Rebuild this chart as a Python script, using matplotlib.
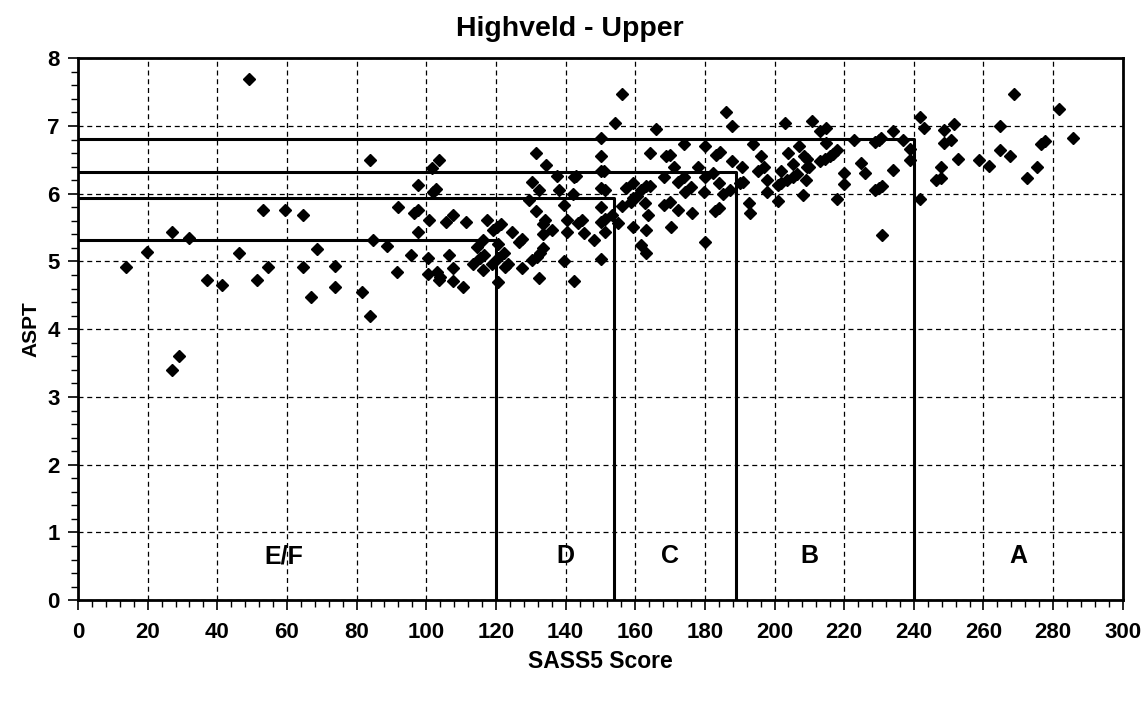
import matplotlib.pyplot as plt
from matplotlib.ticker import MultipleLocator

plt.rcParams['font.family'] = ['Liberation Sans', 'DejaVu Sans']
plt.rcParams['font.weight'] = 'bold'

# SASS5 score vs ASPT for sites
sass5 = [49.2, 53.0, 59.4, 64.5, 27.0, 32.0, 19.9, 13.8, 46.3, 54.5, 64.5, 68.5,
         37.0, 41.3, 51.3, 66.8, 29.0, 27.1,
         73.7, 73.7, 83.8, 84.8, 88.6, 81.6, 83.8, 91.9, 91.7, 95.7, 97.6, 96.5,
         97.6, 97.6, 100.7, 100.6, 100.6, 101.7, 103.6, 102.0, 102.8, 103.0, 103.9,
         103.6, 105.6, 107.6, 106.6, 107.6, 107.6, 110.6, 111.4, 113.5, 114.5,
         116.4, 115.4, 116.6, 116.4, 117.5, 118.8, 119.2, 120.2, 121.6, 120.5,
         120.5, 120.5, 122.4, 122.6, 123.5, 124.5, 126.7, 127.4, 127.4,
         131.5, 134.4, 137.4, 130.3, 132.4, 129.6, 131.5, 134.2, 133.4, 136.0,
         133.4, 133.4, 132.6, 131.7, 130.3, 132.4, 138.2, 139.5, 140.3, 140.3,
         139.5,
         142.4, 142.4, 143.0, 142.2, 143.6, 144.6, 145.3, 148.3, 150.2, 150.2,
         150.2, 150.2, 151.0, 150.2, 151.3, 150.2, 150.2, 151.3, 151.3, 154.2,
         156.3, 153.2, 155.1, 156.3, 157.3, 158.7, 159.3, 159.3, 159.3, 160.6,
         161.8, 163.1, 164.2, 162.8, 163.7, 163.1, 161.8, 163.1, 166.1, 164.2,
         168.8, 170.0, 171.1, 168.2, 172.2, 174.1, 174.3, 176.0, 168.2, 170.0,
         172.2, 170.3, 176.2, 174.1, 178.1, 180.0, 180.0, 179.7, 182.2, 183.2,
         184.3, 184.1, 185.1, 182.9, 184.1, 180.0, 186.0, 187.9, 187.9, 187.2,
         190.8, 190.1, 191.0, 192.7, 193.1, 193.9, 196.0, 197.0, 195.3, 197.9,
         197.9, 201.1, 203.1, 201.9, 201.1, 202.0, 203.5, 204.0, 205.2, 206.9,
         208.1, 205.4, 206.5, 209.0, 209.2, 208.5,
         210.9, 213.0, 214.8, 214.8, 209.4, 210.0, 213.0, 214.5, 215.9, 216.9,
         218.0, 218.0, 219.9, 219.9, 222.8, 224.8, 226.0, 228.8, 230.1, 230.7,
         228.8, 230.1, 231.0, 231.0, 233.9, 233.9, 236.9, 238.9, 238.9, 241.9,
         242.9, 241.9, 248.6, 251.5, 248.6, 250.6, 252.7, 247.7, 246.5, 247.7,
         258.7, 261.6, 264.7, 264.7, 267.6, 268.7, 272.6, 275.4, 276.4, 277.6,
         281.6, 285.6]
aspt = [7.69, 5.76, 5.76, 5.69, 5.43, 5.34, 5.14, 4.92, 5.12, 4.92, 4.92, 5.18,
        4.73, 4.65, 4.72, 4.47, 3.60, 3.40,
        4.93, 4.62, 6.50, 5.31, 5.23, 4.55, 4.20, 5.80, 4.84, 5.10, 6.13, 5.71,
        5.76, 5.44, 5.61, 5.05, 4.81, 6.38, 6.50, 6.03, 6.07, 4.84, 4.77,
        4.73, 5.58, 5.69, 5.10, 4.90, 4.71, 4.62, 5.59, 4.96, 5.22,
        5.32, 5.05, 5.10, 4.87, 5.61, 4.97, 5.47, 5.51, 5.55, 5.26,
        5.05, 4.70, 5.13, 4.92, 4.97, 5.44, 5.29, 5.33, 4.91,
        6.60, 6.43, 6.26, 6.18, 6.05, 5.91, 5.74, 5.61, 5.56, 5.47,
        5.40, 5.20, 5.12, 5.07, 5.02, 4.75, 6.05, 5.83, 5.61, 5.43,
        5.00,
        4.71, 6.24, 6.26, 6.00, 5.57, 5.61, 5.42, 5.32, 5.03, 6.83,
        6.56, 6.33, 6.34, 6.08, 6.05, 5.81, 5.59, 5.62, 5.43, 7.05,
        7.47, 5.69, 5.57, 5.82, 6.08, 5.88, 5.93, 6.16, 5.51, 5.97,
        6.06, 6.11, 6.12, 5.86, 5.69, 5.47, 5.24, 5.12, 6.95, 6.60,
        6.55, 6.57, 6.39, 6.25, 6.18, 6.24, 6.03, 6.10, 5.83, 5.88,
        5.76, 5.51, 5.71, 6.73, 6.39, 6.71, 6.25, 6.02, 6.30, 6.57,
        6.61, 6.16, 6.00, 5.75, 5.79, 5.29, 7.20, 7.00, 6.49, 6.06,
        6.40, 6.16, 6.18, 5.86, 5.72, 6.74, 6.56, 6.39, 6.33, 6.20,
        6.03, 5.90, 7.04, 6.34, 6.13, 6.16, 6.20, 6.60, 6.44, 6.71,
        5.98, 6.25, 6.29, 6.20, 6.40, 6.56,
        7.08, 6.92, 6.97, 6.75, 6.52, 6.39, 6.49, 6.51, 6.56, 6.59,
        6.65, 5.92, 6.31, 6.14, 6.79, 6.46, 6.30, 6.77, 6.80, 6.83,
        6.06, 6.08, 6.12, 5.39, 6.35, 6.92, 6.80, 6.66, 6.50, 7.14,
        6.97, 5.92, 6.94, 7.03, 6.75, 6.80, 6.51, 6.39, 6.20, 6.23,
        6.50, 6.41, 7.00, 6.65, 6.56, 7.47, 6.23, 6.40, 6.74, 6.78,
        7.25, 6.83]

# Ecological category boundaries: SASS5 limit and ASPT limit
band_sass = [120, 154, 189, 240]
band_aspt = [5.31, 5.94, 6.32, 6.81]
band_names = ['E/F', 'D', 'C', 'B', 'A']
band_label_x = [59, 140, 170, 210, 270]

fig, ax = plt.subplots(figsize=(11.41, 7.02), dpi=100)
fig.subplots_adjust(left=0.0684, right=0.984, top=0.917, bottom=0.145)

ax.grid(True, which='major', color='black', linestyle=(0, (4, 3)), linewidth=0.9)
ax.set_axisbelow(True)

ax.plot(sass5, aspt, linestyle='none', marker='D', markersize=6.5, color='black')

for sx, sy in zip(band_sass, band_aspt):
    ax.plot([0, sx, sx], [sy, sy, 0], color='black', linewidth=2.2)

for name, lx in zip(band_names, band_label_x):
    ax.text(lx, 0.65, name, ha='center', va='center', fontsize=18, fontweight='bold')

ax.set_xlim(0, 300)
ax.set_ylim(0, 8)
ax.xaxis.set_major_locator(MultipleLocator(20))
ax.xaxis.set_minor_locator(MultipleLocator(4))
ax.yaxis.set_major_locator(MultipleLocator(1))
ax.yaxis.set_minor_locator(MultipleLocator(0.2))
ax.tick_params(which='major', length=7, width=1.2, labelsize=16)
ax.tick_params(axis='y', which='major', pad=6)
ax.tick_params(axis='x', which='major', pad=9)
ax.tick_params(which='minor', length=5, width=1.0)
for sp in ax.spines.values():
    sp.set_linewidth(2)

ax.set_title('Highveld - Upper', fontsize=20.5, fontweight='bold', pad=16, x=0.471)
ax.set_xlabel('SASS5 Score', fontsize=16.5, fontweight='bold', labelpad=5)
ax.set_ylabel('ASPT', fontsize=15, fontweight='bold', labelpad=5)

plt.savefig('out.png')
